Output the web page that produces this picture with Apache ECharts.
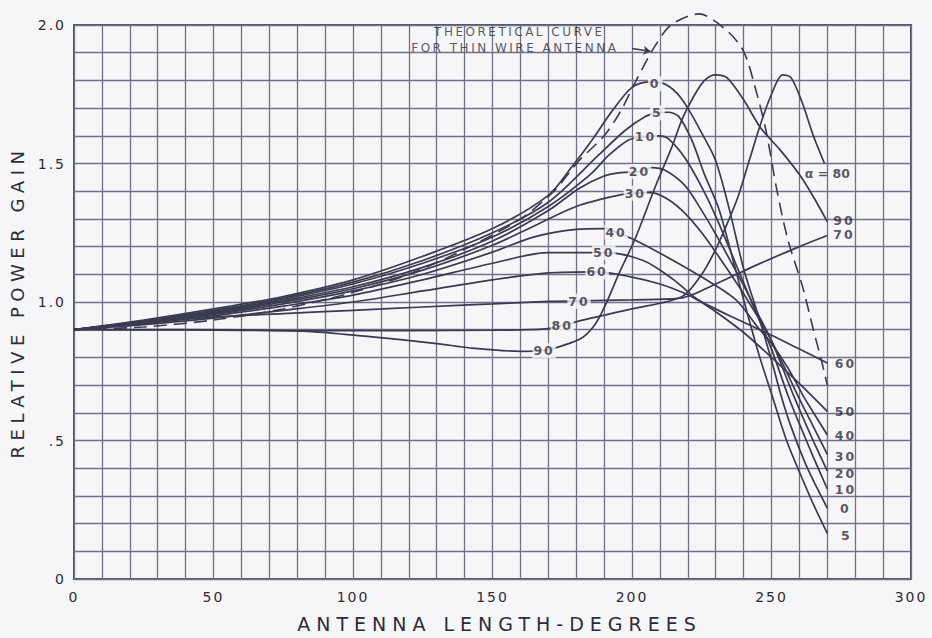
<!DOCTYPE html>
<html>
<head>
<meta charset="utf-8">
<script src="https://cdn.jsdelivr.net/npm/echarts@6/dist/echarts.min.js"></script>
<style>
  html, body { margin: 0; padding: 0; background: #f6f6f8; }
  #chart { width: 932px; height: 638px; }
</style>
</head>
<body>
<div id="chart"></div>
<script>
// Relative power gain vs antenna length (degrees), one curve per cone angle alpha.
const theoretical = [[0,0.90],[25,0.91],[50,0.935],[75,0.975],[100,1.035],[120,1.10],[140,1.19],[160,1.30],[172,1.40],[181,1.51],[190,1.60],[196,1.69],[201,1.79],[208,1.92],[214,2.00],[224,2.04],[234,1.98],[240,1.905],[244,1.78],[248,1.62],[252,1.40],[256,1.22],[261,1.06],[265,0.90],[268,0.785],[270,0.70]];
const alpha0  = [[0,0.90],[25,0.935],[50,0.975],[75,1.02],[100,1.08],[125,1.165],[150,1.265],[170,1.385],[178.6,1.49],[185.7,1.585],[192.9,1.69],[200,1.775],[206,1.795],[211,1.79],[216,1.755],[220,1.70],[225,1.61],[230,1.51],[235,1.33],[240,1.12],[245,0.96],[250,0.79],[253.5,0.66],[257,0.55],[262,0.42],[266,0.335],[270,0.256]];
const alpha5  = [[0,0.90],[25,0.932],[50,0.97],[75,1.015],[100,1.072],[125,1.15],[150,1.25],[170,1.36],[188,1.53],[197.6,1.62],[204.8,1.67],[209,1.683],[213,1.685],[216.7,1.67],[221.4,1.585],[226,1.46],[231,1.34],[236,1.16],[240.5,0.99],[245.5,0.81],[250.6,0.65],[255.4,0.50],[260.7,0.37],[265,0.27],[270,0.165]];
const alpha10 = [[0,0.90],[25,0.93],[50,0.965],[75,1.01],[100,1.065],[125,1.14],[150,1.235],[170,1.345],[185,1.46],[191.7,1.53],[198.8,1.585],[204.8,1.597],[210,1.60],[213,1.59],[219,1.52],[225,1.415],[230,1.31],[240,1.07],[245,0.95],[250,0.83],[256,0.66],[260,0.56],[265,0.44],[270,0.325]];
const alpha20 = [[0,0.90],[25,0.928],[50,0.962],[75,1.005],[100,1.055],[125,1.125],[150,1.22],[170,1.33],[181,1.41],[190,1.455],[196,1.467],[202.7,1.471],[207,1.485],[212,1.475],[219,1.42],[225,1.33],[230,1.245],[240,1.06],[245,0.96],[250,0.86],[258,0.66],[264,0.52],[270,0.39]];
const alpha30 = [[0,0.90],[25,0.926],[50,0.958],[75,1.0],[100,1.048],[125,1.115],[150,1.205],[164,1.27],[180,1.345],[195,1.385],[201.2,1.393],[207,1.395],[213,1.37],[219,1.32],[225,1.25],[230,1.18],[240,1.03],[250,0.86],[260,0.65],[265,0.55],[270,0.45]];
const alpha40 = [[0,0.90],[25,0.924],[50,0.955],[75,0.993],[100,1.04],[125,1.10],[150,1.18],[165,1.235],[180,1.262],[190,1.265],[194.3,1.252],[201,1.224],[213,1.16],[225,1.09],[237,1.01],[245,0.91],[250,0.85],[256,0.76],[262,0.65],[266,0.585],[270,0.52]];
const alpha50 = [[0,0.90],[25,0.922],[50,0.95],[75,0.985],[100,1.025],[125,1.08],[150,1.14],[170,1.178],[189.9,1.178],[204,1.15],[215,1.08],[222,1.02],[230,0.965],[240,0.89],[250,0.80],[260,0.705],[270,0.605]];
const alpha60 = [[0,0.90],[25,0.918],[50,0.942],[75,0.97],[100,1.0],[125,1.04],[150,1.08],[170,1.105],[187.5,1.109],[200,1.09],[210,1.065],[218,1.035],[225,1.0],[235,0.95],[250,0.88],[260,0.83],[270,0.78]];
const alpha70 = [[0,0.90],[25,0.925],[50,0.945],[75,0.958],[100,0.97],[125,0.982],[150,0.993],[170,1.002],[181,1.004],[200,1.008],[218,1.015],[230,1.065],[245,1.135],[260,1.20],[270,1.24]];
const alpha80 = [[0,0.90],[40,0.899],[82,0.897],[120,0.897],[150,0.898],[169,0.903],[175,0.915],[181.5,0.933],[200,0.975],[218,1.02],[225,1.10],[230,1.19],[234,1.28],[238,1.38],[242,1.51],[246,1.64],[250,1.75],[254,1.82],[257,1.81],[261,1.72],[265,1.60],[269,1.50]];
const alpha90 = [[0,0.90],[40,0.90],[82,0.895],[106,0.875],[130,0.85],[142,0.834],[160,0.822],[168.5,0.825],[174.3,0.84],[182,0.87],[186.8,0.92],[190.5,0.99],[195.2,1.10],[201.2,1.23],[208.3,1.415],[214.3,1.56],[218,1.66],[222,1.74],[226,1.80],[230,1.82],[234,1.81],[240,1.73],[246,1.63],[253,1.55],[260,1.46],[265,1.38],[270,1.29]];

// Curve tags written on the curves (x, y in axis units, text)
const inlineTags = [[208.3,1.788,'0'],[209.1,1.683,'5'],[204.8,1.597,'10'],[202.7,1.471,'20'],[201.2,1.393,'30'],[194.3,1.252,'40'],[189.9,1.178,'50'],[187.5,1.109,'60'],[181,1.003,'70'],[175,0.916,'80'],[168.5,0.824,'90']];
// Curve tags at the right-hand ends
const endTags = [[276,1.293,'90'],[276,1.245,'70'],[276.5,0.777,'60'],[276.5,0.606,'50'],[276.5,0.519,'40'],[276.5,0.444,'30'],[276.5,0.380,'20'],[276.5,0.322,'10'],[276.5,0.253,'0'],[276.8,0.158,'5'],[270,1.463,'α = 80']];
// Note for the dashed curve and its pointer
const noteLines = [[159.6,1.974,'THEORETICAL CURVE'],[158.0,1.917,'FOR THIN WIRE ANTENNA']];
const notePointer = [[200,1.915],[206.6,1.905]];

const xLabelStep = 50;
const yLabelStep = 0.5;

const INK = '#3a3a50';
const TEXT = '#2c2c3a';
const GRID = '#707086';
const BG = '#f6f6f8';
const FONT = 'DejaVu Sans';

const solidCurves = [alpha0, alpha5, alpha10, alpha20, alpha30, alpha40, alpha50, alpha60, alpha70, alpha80, alpha90];

const series = solidCurves.map(d => ({
  type: 'line', data: d, showSymbol: false, smooth: 0.3,
  silent: true, z: 3, lineStyle: { color: INK, width: 1.7 }
}));
series.push({
  type: 'line', data: theoretical, showSymbol: false, smooth: 0.3, clip: false,
  silent: true, z: 3, lineStyle: { color: INK, width: 1.6, type: [13, 7] }
});
series.push({
  type: 'lines', coordinateSystem: 'cartesian2d', silent: true, z: 4,
  symbol: ['none', 'arrow'], symbolSize: 7,
  lineStyle: { color: INK, width: 1.4, opacity: 1 },
  data: [{ coords: notePointer }]
});
series.push({
  type: 'scatter', data: inlineTags, symbolSize: 0, silent: true, z: 10,
  label: {
    show: true, position: 'inside', formatter: p => p.value[2],
    fontFamily: FONT, fontSize: 12.5, fontWeight: 'bold', color: TEXT,
    backgroundColor: BG, padding: [1, 3]
  }
});
series.push({
  type: 'scatter', data: endTags, symbolSize: 0, silent: true, z: 10,
  label: {
    show: true, position: 'inside', formatter: p => p.value[2],
    fontFamily: FONT, fontSize: 12.5, fontWeight: 'bold', color: TEXT,
    lineHeight: 11, padding: 0
  }
});
series.push({
  type: 'scatter', data: noteLines, symbolSize: 0, silent: true, z: 10,
  label: {
    show: true, position: 'inside', formatter: p => p.value[2],
    fontFamily: FONT, fontSize: 12, color: TEXT, lineHeight: 13
  }
});

const near = (v, step) => Math.abs(v / step - Math.round(v / step)) < 1e-6;

const option = {
  backgroundColor: BG,
  animation: false,
  grid: { left: 70, right: 21, top: 25, bottom: 53, show: true, borderColor: '#505066', borderWidth: 2 },
  xAxis: {
    type: 'value', min: 0, max: 300, interval: 10,
    name: 'ANTENNA LENGTH-DEGREES', nameLocation: 'middle', nameGap: 35,
    nameTextStyle: { fontFamily: FONT, fontSize: 19, color: TEXT, padding: [0, 0, 0, 14] },
    axisLine: { show: false }, axisTick: { show: false },
    axisLabel: { formatter: v => near(v, xLabelStep) ? String(Math.round(v)) : '', fontFamily: FONT, fontSize: 14, color: TEXT, margin: 11 },
    splitLine: { show: true, lineStyle: { color: GRID, width: 1.3 } }
  },
  yAxis: {
    type: 'value', min: 0, max: 2, interval: 0.1,
    name: 'RELATIVE POWER GAIN', nameLocation: 'middle', nameGap: 48, nameRotate: 90,
    nameTextStyle: { fontFamily: FONT, fontSize: 18, color: TEXT },
    axisLine: { show: false }, axisTick: { show: false },
    axisLabel: {
      formatter: v => {
        if (!near(v, yLabelStep)) return '';
        if (Math.abs(v) < 1e-9) return '0';
        if (Math.abs(v - 0.5) < 1e-9) return '.5';
        return v.toFixed(1);
      },
      fontFamily: FONT, fontSize: 14, color: TEXT, margin: 8
    },
    splitLine: { show: true, lineStyle: { color: GRID, width: 1.3 } }
  },
  series: series
};

const chart = echarts.init(document.getElementById('chart'), null, { renderer: 'svg' });
chart.setOption(option);

// Hand-lettered look: widen the spacing of the titles and tick numbers.
function spaceLetters() {
  document.querySelectorAll('#chart svg text').forEach(t => {
    const s = t.textContent;
    let sp = 0;
    if (s === 'RELATIVE POWER GAIN') sp = 5.5;
    else if (s === 'ANTENNA LENGTH-DEGREES') sp = 6;
    else if (s === 'THEORETICAL CURVE' || s === 'FOR THIN WIRE ANTENNA') sp = 2.5;
    else if (/^[0-9.]+$/.test(s) && t.getAttribute('font-weight') !== 'bold') sp = 2;
    if (sp) t.style.letterSpacing = sp + 'px';
  });
}
chart.on('finished', spaceLetters);
setTimeout(spaceLetters, 50);
</script>
</body>
</html>
